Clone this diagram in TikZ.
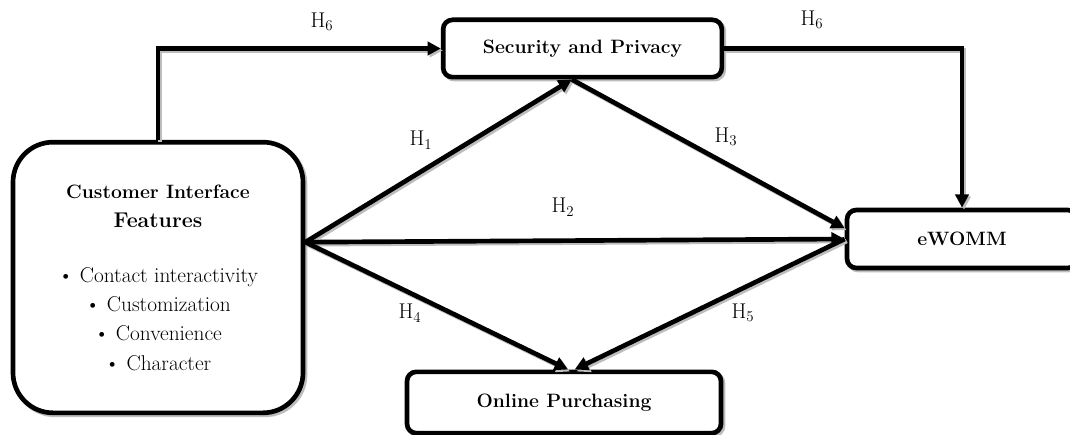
\documentclass[tikz,border=0pt]{standalone}
\usepackage{tikz}
\usetikzlibrary{positioning,arrows.meta,calc}
\definecolor{cshadow}{HTML}{BDBDBD}
\tikzset{
 cbox/.style={rectangle, rounded corners=7pt, draw=black, fill=white, line width=3.5pt,
 align=center, inner sep=0pt, font=\fontsize{14.5}{17}\selectfont\bfseries,
 preaction={draw=cshadow, line width=3.5pt, transform canvas={xshift=1.5pt,yshift=-1.5pt}}},
 bigbox/.style={cbox, rounded corners=30pt, font=\fontsize{16}{22}\selectfont},
 fl/.style={-{Triangle[length=10pt,width=10pt]}, draw=black, line width=3.5pt,
 preaction={draw=cshadow, line width=3.5pt, transform canvas={xshift=1.5pt,yshift=-1.5pt}}},
 lbl/.style={inner sep=0pt, font=\fontsize{16}{18}\selectfont},
}
\begin{document}
\begin{tikzpicture}[x=0.75pt, y=-0.75pt]
 \useasboundingbox (0,0) rectangle (1070,435);
 % constructs
 \node[bigbox, minimum width=217.5pt, minimum height=203pt] (cif) at (158,277.5)
 {\fontsize{14.5}{23}\selectfont\textbf{Customer Interface}\\\textbf{Features}\\[19pt]
 \fontsize{16}{22}\selectfont
 \textbullet\ Contact interactivity\\\textbullet\ Customization\\
 \textbullet\ Convenience\\\textbullet\ Character};
 \node[cbox, minimum width=209pt, minimum height=43pt] (sec) at (582.5,48.5) {Security and Privacy};
 \node[cbox, minimum width=172.5pt, minimum height=43.5pt] (ewomm) at (962,239) {eWOMM};
 \node[cbox, minimum width=235.5pt, minimum height=46pt] (op) at (564,402.5) {Online Purchasing};
 \coordinate (hub) at ([yshift=26.5pt]cif.east);
 \coordinate (secin) at ([xshift=-8pt]sec.south);
 % hypotheses
 \node[lbl] (h6a) at (322,22) {H\textsubscript{6}};
 \node[lbl] (h6b) at (812,20) {H\textsubscript{6}};
 \node[lbl] (h1) at (421,140) {H\textsubscript{1}};
 \node[lbl] (h3) at (726,137) {H\textsubscript{3}};
 \node[lbl] (h2) at (563,207) {H\textsubscript{2}};
 \node[lbl] (h4) at (410,313) {H\textsubscript{4}};
 \node[lbl] (h5) at (743,313) {H\textsubscript{5}};

 \draw[fl] (cif.north) |- (sec.west);
 \draw[fl] (sec.east) -| (ewomm.north);
 \draw[fl] (hub) -- (secin);
 \draw[fl] (secin) -- ([yshift=8pt]ewomm.west);
 \draw[fl] (hub) -- (ewomm.west);
 \draw[fl] (hub) -- ([xshift=3pt]op.north);
 \draw[fl] (ewomm.west) -- ([xshift=8pt]op.north);
\end{tikzpicture}
\end{document}
